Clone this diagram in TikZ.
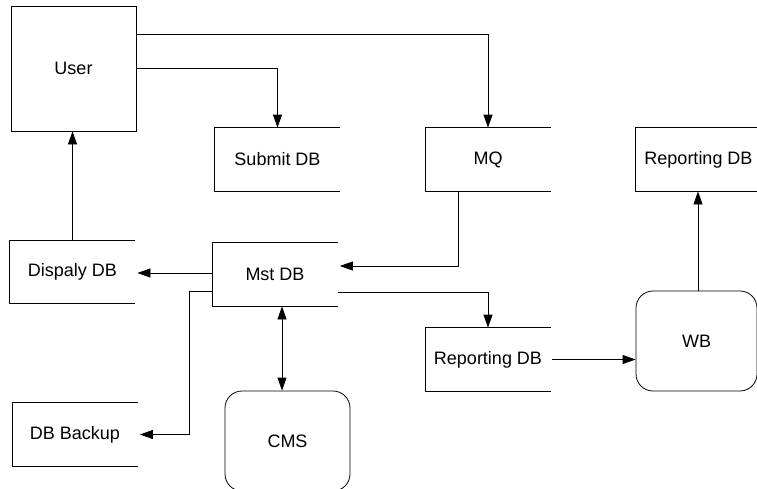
\documentclass[tikz,border=0pt]{standalone}
\usepackage{fontspec}
\setmainfont{Liberation Sans}
\usetikzlibrary{arrows.meta}
\begin{document}
\begin{tikzpicture}[x=1pt, y=-1pt, line width=0.8pt,
  font=\fontsize{18}{21}\selectfont,
  store/.style={minimum width=125pt, minimum height=63pt, inner sep=0pt},
  proc/.style={draw, rounded corners=17pt, minimum width=125pt, minimum height=100pt, inner sep=0pt},
  arr/.style={-{Triangle[length=13pt,width=9pt]}},
  dblarr/.style={{Triangle[length=13pt,width=9pt]}-{Triangle[length=13pt,width=9pt]}}]
\useasboundingbox (0,0) rectangle (757,488);
\node[draw, minimum size=125pt, inner sep=0pt] (user) at (73.5,68.5){User};
\node[store] (submit) at (277.5,159.5){Submit DB};
\node[store] (mq) at (488,159.5){MQ};
\node[store] (reptop) at (698.5,159.5){Reporting DB};
\node[store, minimum height=62pt] (display) at (72.5,272){Dispaly DB};
\node[store] (mst) at (275,274.5){Mst DB};
\node[store] (repmid) at (488,359.5){Reporting DB};
\node[store] (backup) at (75,434.5){DB Backup};
\node[proc, minimum width=121pt] (wb) at (696.5,341){WB};
\node[proc] (cms) at (287.5,441){CMS};
% open-ended data stores
\foreach \n in {submit,mq,reptop,display,mst,repmid,backup}
  \draw (\n.north east) -- (\n.north west) -- (\n.south west) -- (\n.south east);
% flows
\draw[arr] ([yshift=-29pt]user.north east) -| (mq.north);
\draw[arr] (user.east) -| (submit.north);
\draw[arr] (display.north) -- (display.north |- user.south);
\draw[arr] ([xshift=-30pt]mq.south) |- ([xshift=2pt,yshift=8.5pt]mst.east);
\draw[arr] ([yshift=1.5pt]mst.west) -- ([xshift=2pt,yshift=1.5pt]mst.west -| display.east);
\draw[arr] ([yshift=-16.5pt]mst.west) -- ++(-23,0) |- ([xshift=2pt]backup.east);
\draw[arr] ([yshift=-17.5pt]mst.east) -| (repmid.north);
\draw[dblarr] ([xshift=7pt]mst.south) -- ([xshift=7pt]mst.south |- cms.north);
\draw[arr] ([xshift=1pt]repmid.east) -- (repmid.east -| wb.west);
\draw[arr] ([xshift=1.5pt]wb.north) -- ([xshift=1.5pt]wb.north |- reptop.south);
\end{tikzpicture}
\end{document}
